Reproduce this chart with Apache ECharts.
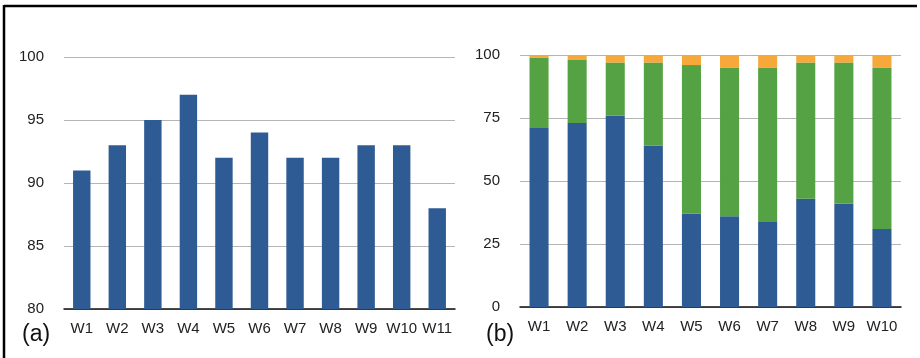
<!DOCTYPE html>
<html>
<head>
<meta charset="utf-8">
<script src="https://cdn.jsdelivr.net/npm/echarts@6/dist/echarts.min.js"></script>
<style>html,body{margin:0;padding:0;background:#fff}#c{width:920px;height:358px}</style>
</head>
<body>
<div id="c"></div>
<script>
const catsA = ['W1','W2','W3','W4','W5','W6','W7','W8','W9','W10','W11'];
const valsA = [91,93,95,97,92,94,92,92,93,93,88];
const catsB = ['W1','W2','W3','W4','W5','W6','W7','W8','W9','W10'];
const blueB = [71,73,76,64,37,36,34,43,41,31];
const greenB = [28,25,21,33,59,59,61,54,56,64];
const orangeB = [1,2,3,3,4,5,5,3,3,5];

const FONT = 'Liberation Sans, Arial, sans-serif';
const BLUE = '#2E5B93', GREEN = '#55A244', ORANGE = '#F6A83B';
const chart = echarts.init(document.getElementById('c'), null, {renderer:'canvas'});
const xAxisCommon = {
  type:'category',
  axisTick:{show:false},
  axisLine:{lineStyle:{color:'#111', width:1.5}},
  axisLabel:{color:'#222', fontFamily:FONT, fontSize:15, margin:12, interval:0}
};
const yAxisCommon = {
  type:'value',
  axisLine:{show:false}, axisTick:{show:false},
  splitLine:{lineStyle:{color:'#b5b5b5', width:1}},
  axisLabel:{color:'#222', fontFamily:FONT, fontSize:15, margin:20}
};
chart.setOption({
  animation:false,
  grid:[
    {left:64, right:465, top:57, bottom:49},
    {left:520, right:19, top:55, bottom:51}
  ],
  xAxis:[
    Object.assign({gridIndex:0, data:catsA}, xAxisCommon),
    Object.assign({gridIndex:1, data:catsB}, xAxisCommon)
  ],
  yAxis:[
    Object.assign({gridIndex:0, min:80, max:100, interval:5}, yAxisCommon),
    Object.assign({gridIndex:1, min:0, max:100, interval:25}, yAxisCommon)
  ],
  series:[
    {type:'bar', xAxisIndex:0, yAxisIndex:0, data:valsA, itemStyle:{color:BLUE}, barWidth:'49%'},
    {type:'bar', xAxisIndex:1, yAxisIndex:1, stack:'b', data:blueB, itemStyle:{color:BLUE}, barWidth:'50%'},
    {type:'bar', xAxisIndex:1, yAxisIndex:1, stack:'b', data:greenB, itemStyle:{color:GREEN}, barWidth:'50%'},
    {type:'bar', xAxisIndex:1, yAxisIndex:1, stack:'b', data:orangeB, itemStyle:{color:ORANGE}, barWidth:'50%'}
  ],
  graphic:[
    {type:'line', shape:{x1:4, y1:6, x2:917, y2:6}, style:{stroke:'#000', lineWidth:2.5}},
    {type:'line', shape:{x1:4, y1:5, x2:4, y2:358}, style:{stroke:'#000', lineWidth:2.5}},
    {type:'text', left:22, top:323, style:{text:'(a)', fill:'#111', font:'23px '+FONT}},
    {type:'text', left:486, top:323, style:{text:'(b)', fill:'#111', font:'23px '+FONT}}
  ]
});
</script>
</body>
</html>
